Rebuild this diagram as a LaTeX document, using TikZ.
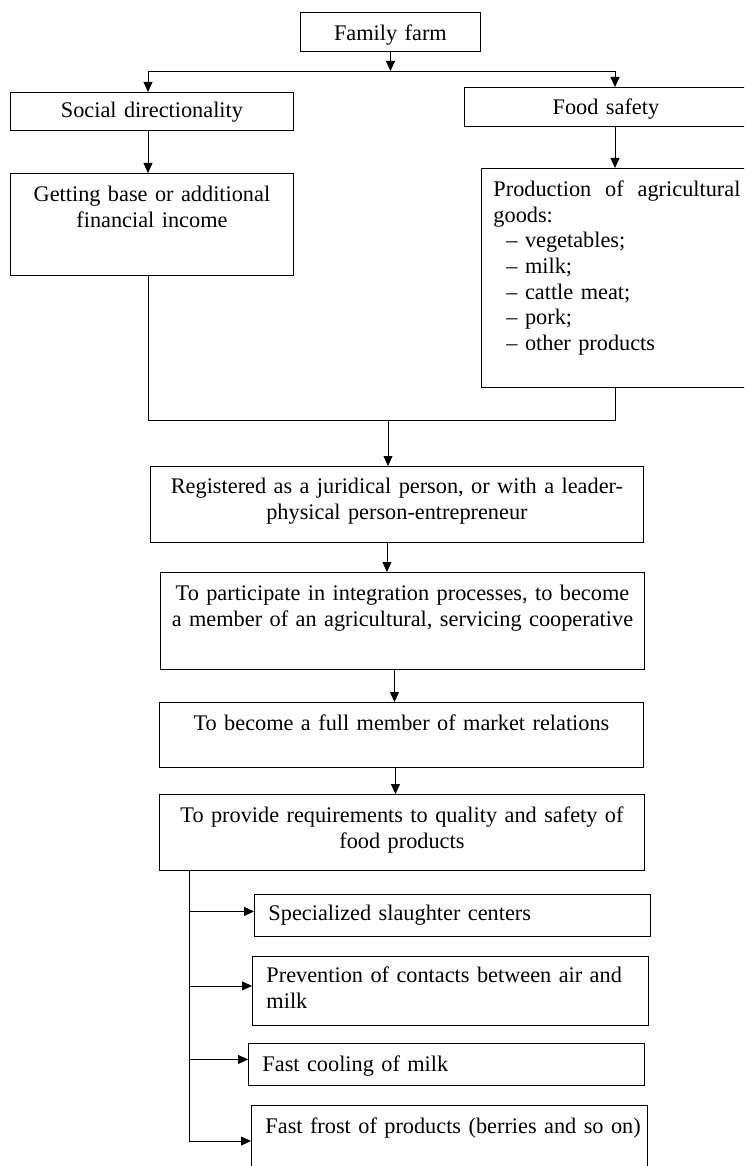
\documentclass[tikz,border=0pt]{standalone}
\usepackage{fontspec}
\setmainfont{Liberation Serif}
\usetikzlibrary{arrows.meta}

\begin{document}
\begin{tikzpicture}[x=1pt,y=-1pt]
      \tikzstyle{cadre}=[draw, line width=0.9pt, anchor=north west, inner xsep=10pt, inner ysep=0pt, align=center, font=\fontsize{22.3}{25.7}\selectfont]
      \tikzstyle{gauche}=[align=left, inner xsep=14pt]
      \tikzstyle{fleche}=[-{Triangle[length=10pt,width=9pt]}, line width=0.8pt]
      \tikzstyle{trait}=[line width=0.8pt]

      \useasboundingbox (0,0) rectangle (744,1166);
      \clip (0,0) rectangle (744,1166);

      \node[cadre, text width=160pt, text height=28pt, text depth=11pt] (Farm) at (300,12) {Family farm};
      \node[cadre, text width=263pt, text height=25pt, text depth=13pt] (Soc) at (10,92) {Social directionality};
      \node[cadre, text width=263pt, text height=27pt, text depth=12pt] (Food) at (464,87) {Food safety};
      \node[cadre, text width=263pt, text height=28pt, text depth=74pt] (Inc) at (10,173) {Getting base or additional\\financial income};
      \node[cadre, gauche, inner xsep=12pt, text width=247pt, text height=28pt, text depth=191pt] (Prod) at (481,168)
        {Production\hfill of\hfill agricultural\\goods:\\
         \hspace*{13pt}-- vegetables;\\\hspace*{13pt}-- milk;\\\hspace*{13pt}-- cattle meat;\\
         \hspace*{13pt}-- pork;\\\hspace*{13pt}-- other products};
      \node[cadre, text width=473pt, text height=27pt, text depth=49pt] (Reg) at (150,466) {Registered as a juridical person, or with a leader-\\physical person-entrepreneur};
      \node[cadre, text width=464pt, text height=28pt, text depth=69pt] (Coop) at (160,572) {To participate in integration processes, to become\\a member of an agricultural, servicing cooperative};
      \node[cadre, text width=464pt, text height=28pt, text depth=37pt] (Mark) at (159,702) {To become a full member of market relations};
      \node[cadre, text width=465pt, text height=28pt, text depth=48pt] (Qual) at (159,794) {To provide requirements to quality and safety of\\food products};
      \node[cadre, gauche, text width=368pt, text height=26pt, text depth=16pt] (Slau) at (254,894) {Specialized slaughter centers};
      \node[cadre, gauche, text width=368pt, text height=26pt, text depth=43pt] (Air) at (252,956) {Prevention of contacts between air and\\milk};
      \node[cadre, gauche, text width=368pt, text height=28pt, text depth=14pt] (Cool) at (248,1043) {Fast cooling of milk};
      \node[cadre, gauche, text width=368pt, text height=28pt, text depth=57pt] (Frost) at (251,1105) {\mbox{Fast frost of products (berries and so on)}};

      \coordinate (Jg) at (148,71);
      \coordinate (Jd) at (615,71);
      \coordinate (Mg) at (148,420);
      \coordinate (Md) at (615,420);
      \coordinate (Mc) at (388,420);
      \coordinate (Tr) at (189,1141);

      \draw[fleche] (Farm.south) -- (Farm.south |- Jg);
      \draw[trait] (Jg) -- (Jd);
      \draw[fleche] (Jg) -- (Jg |- Soc.north);
      \draw[fleche] (Jd) -- (Jd |- Food.north);
      \draw[fleche] (Jg |- Soc.south) -- (Jg |- Inc.north);
      \draw[fleche] (Jd |- Food.south) -- (Jd |- Prod.north);
      \draw[trait] (Jg |- Inc.south) -- (Mg) -- (Md) -- (Jd |- Prod.south);
      \draw[fleche] (Mc) -- (Mc |- Reg.north);
      \draw[fleche] ([xshift=-10pt]Reg.south) -- ([xshift=-10pt]Reg.south |- Coop.north);
      \draw[fleche] ([xshift=-8pt]Coop.south) -- ([xshift=-8pt]Coop.south |- Mark.north);
      \draw[fleche] ([xshift=-6pt]Mark.south) -- ([xshift=-6pt]Mark.south |- Qual.north);
      \draw[trait] (Tr |- Qual.south) -- (Tr);
      \draw[fleche] ([yshift=4pt]Slau.west -| Tr) -- ([yshift=4pt]Slau.west);
      \draw[fleche] ([yshift=5pt]Air.west -| Tr) -- ([yshift=5pt]Air.west);
      \draw[fleche] ([yshift=5pt]Cool.west -| Tr) -- ([yshift=5pt]Cool.west);
      \draw[fleche] (Tr) -- (Tr -| Frost.west);

    \end{tikzpicture}
\end{document}
